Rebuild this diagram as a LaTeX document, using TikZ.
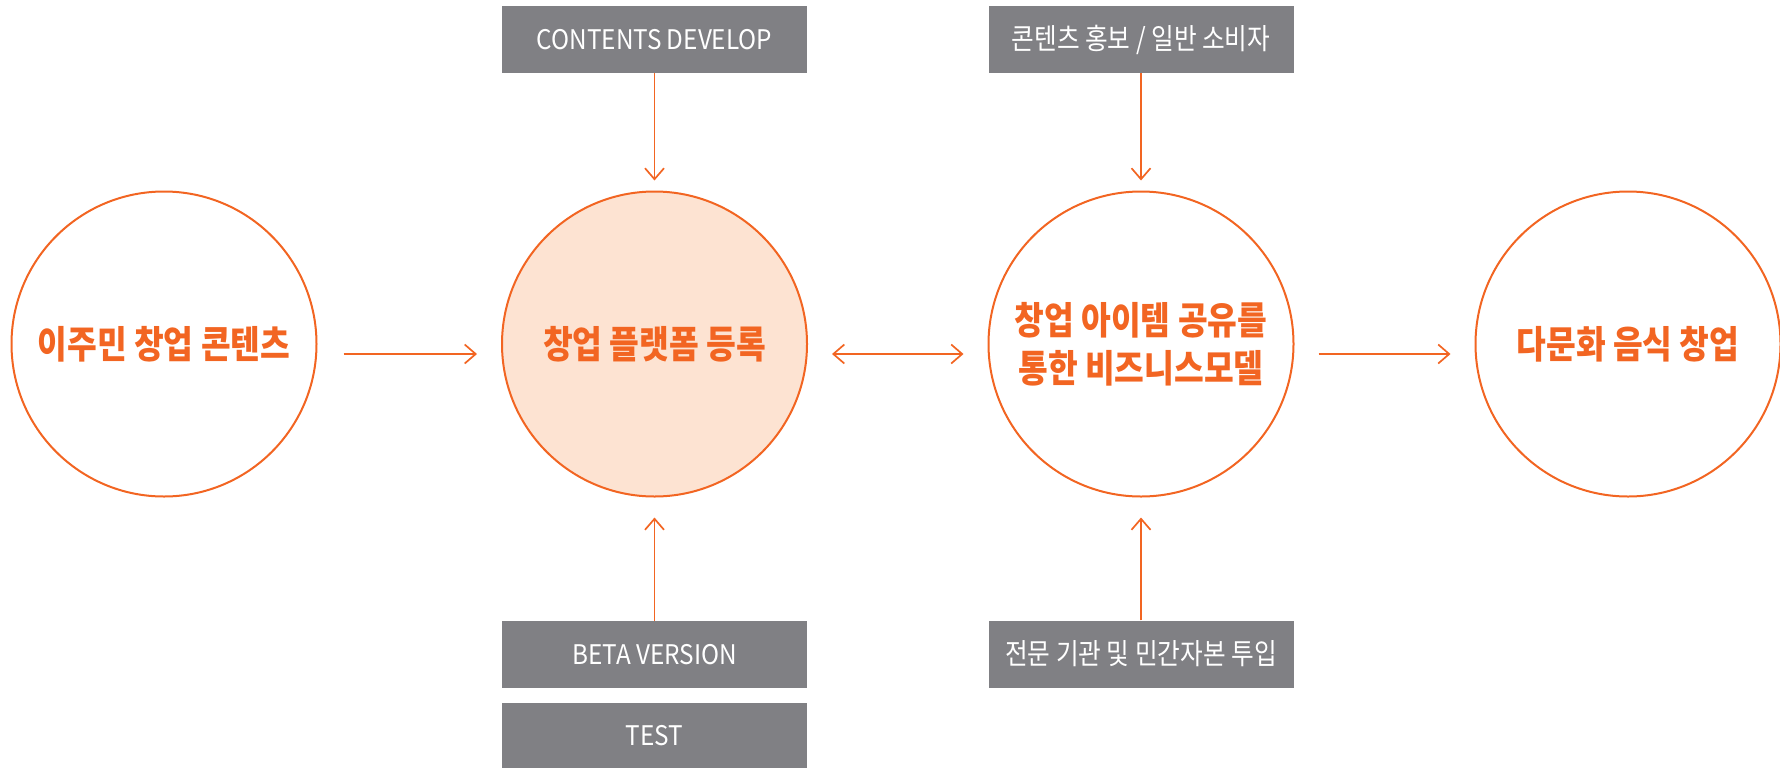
\documentclass[tikz,border=0pt]{standalone}
\usepackage{fontspec}
\usepackage{tikz}
\usetikzlibrary{arrows.meta}
\usetikzlibrary{positioning}
\setmainfont{Noto Sans CJK KR}
\newfontfamily\krfont[FakeStretch=0.85]{Noto Sans CJK KR}
\newfontfamily\latinfont[FakeStretch=0.9]{Noto Sans CJK KR}
\definecolor{brandorange}{HTML}{F26522}
\definecolor{peach}{HTML}{FDE3D2}
\definecolor{boxgray}{HTML}{808084}
\tikzset{stage/.style = {circle, draw = brandorange, line width = 2pt, minimum size = 305pt, inner sep = 0,
    text = brandorange, align = center, font = \krfont\bfseries\fontsize{38}{48}\selectfont}}
\tikzset{infobox/.style = {fill = boxgray, minimum width = 305pt, minimum height = 67pt, inner sep = 0,
    text = white, font = \latinfont\fontsize{27}{32}\selectfont}}
\tikzset{krbox/.style = {infobox, font = \krfont\fontsize{29}{32}\selectfont}}
\tikzset{flow/.style = {draw = brandorange, line width = 1.7pt, -{Straight Barb[length = 11pt, width = 19pt]}}}
\tikzset{gap/.style = {shorten < = 24pt, shorten > = 24pt}}

\begin{document}
\begin{tikzpicture}[x = 1pt, y = -1pt]
      \useasboundingbox (0, 0) rectangle (1780, 769);

      \node [stage] at (164, 344) (migrant) {이주민 창업 콘텐츠};
      \node [stage, fill = peach] at (654.5, 344) (platform) {창업 플랫폼 등록};
      \node [stage] at (1141, 344) (sharing) {창업 아이템 공유를\\통한 비즈니스모델};
      \node [stage] at (1628, 344) (startup) {다문화 음식 창업};

      \node [infobox] at (654.5, 39.5) (develop) {CONTENTS DEVELOP};
      \node [krbox] at (1141, 39.5) (promo) {콘텐츠 홍보 / 일반 소비자};
      \node [infobox] at (654.5, 654.5) (beta) {BETA VERSION};
      \node [infobox, minimum height = 65pt] at (654.5, 735.5) (test) {TEST};
      \node [krbox] at (1141, 654) (invest) {전문 기관 및 민간자본 투입};

      \draw [flow, gap, shorten < = 26pt] ([yshift = -10pt] migrant.east) -- ([yshift = -10pt] platform.west);
      \draw [flow, gap, {Straight Barb[length = 11pt, width = 19pt]}-{Straight Barb[length = 11pt, width = 19pt]}]
        ([yshift = -10pt] platform.east) -- ([yshift = -10pt] sharing.west);
      \draw [flow, gap] ([yshift = -10pt] sharing.east) -- ([yshift = -10pt] startup.west);

      \draw [flow, shorten > = 10pt] (develop) -- (platform);
      \draw [flow, shorten > = 10pt] (promo) -- (sharing);
      \draw [flow, shorten > = 20pt] (beta) -- (platform);
      \draw [flow, shorten > = 20pt] (invest) -- (sharing);
    \end{tikzpicture}
\end{document}
